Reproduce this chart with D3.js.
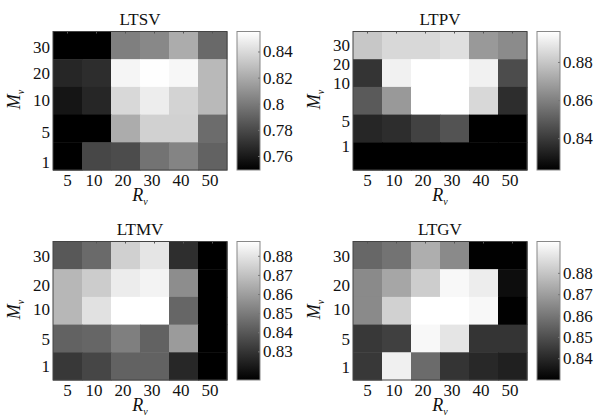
<!DOCTYPE html>
<html>
<head>
<meta charset="utf-8">
<script src="https://cdn.jsdelivr.net/npm/d3@7"></script>
<style>
  body { margin: 0; background: #fff; }
  svg, svg text { font-family: "Liberation Serif", "Times New Roman", serif; }
</style>
</head>
<body>
<div id="chart"></div>
<script>
// axis categories
const rLabels = ['5', '10', '20', '30', '40', '50']
const mLabels = ['30', '20', '10', '5', '1']

// cell values, rows top (M=30) to bottom (M=1), columns R=5..50
const ltsv = [
  [0.749, 0.749, 0.802, 0.806, 0.821, 0.793],
  [0.765, 0.768, 0.851, 0.855, 0.852, 0.826],
  [0.758, 0.765, 0.839, 0.848, 0.837, 0.826],
  [0.749, 0.749, 0.821, 0.836, 0.836, 0.794],
  [0.749, 0.779, 0.781, 0.797, 0.804, 0.790]
]
const ltpv = [
  [0.880, 0.885, 0.885, 0.887, 0.867, 0.863],
  [0.838, 0.892, 0.896, 0.896, 0.892, 0.845],
  [0.849, 0.867, 0.896, 0.896, 0.885, 0.836],
  [0.834, 0.836, 0.842, 0.847, 0.823, 0.823],
  [0.823, 0.823, 0.823, 0.823, 0.823, 0.823]
]
const ltmv = [
  [0.840, 0.845, 0.874, 0.880, 0.828, 0.815],
  [0.867, 0.873, 0.882, 0.884, 0.855, 0.815],
  [0.867, 0.879, 0.8875, 0.8875, 0.844, 0.815],
  [0.843, 0.844, 0.851, 0.843, 0.859, 0.815],
  [0.831, 0.835, 0.843, 0.843, 0.826, 0.815]
]
const ltgv = [
  [0.856, 0.859, 0.874, 0.865, 0.830, 0.830],
  [0.865, 0.872, 0.882, 0.893, 0.890, 0.833],
  [0.865, 0.883, 0.8947, 0.8947, 0.893, 0.830],
  [0.844, 0.846, 0.893, 0.888, 0.843, 0.843],
  [0.844, 0.891, 0.857, 0.843, 0.840, 0.838]
]

// colour bar ranges and ticks
const ltsvRange = [0.7493, 0.8553]
const ltpvRange = [0.8233, 0.896]
const ltmvRange = [0.815, 0.8875]
const ltgvRange = [0.8298, 0.8947]
const ltsvTicks = [0.76, 0.78, 0.80, 0.82, 0.84]
const ltpvTicks = [0.84, 0.86, 0.88]
const ltmvTicks = [0.83, 0.84, 0.85, 0.86, 0.87, 0.88]
const ltgvTicks = [0.84, 0.85, 0.86, 0.87, 0.88]

const titles = ['LTSV', 'LTPV', 'LTMV', 'LTGV']

const panels = [
  { title: titles[0], values: ltsv, range: ltsvRange, ticks: ltsvTicks, fmt: d3.format('.2~f'), ox: 0, oy: 0, yNudge: [2, 0, -0.5, 4.5, 6.5] },
  { title: titles[1], values: ltpv, range: ltpvRange, ticks: ltpvTicks, fmt: d3.format('.2f'), ox: 300, oy: 0, yNudge: [0, -8.5, -17, -6.5, -9.5] },
  { title: titles[2], values: ltmv, range: ltmvRange, ticks: ltmvTicks, fmt: d3.format('.2f'), ox: 0, oy: 210, yNudge: [1, 2, -1, 1.5, 0.5] },
  { title: titles[3], values: ltgv, range: ltgvRange, ticks: ltgvTicks, fmt: d3.format('.2f'), ox: 300, oy: 210, yNudge: [1, 2.5, -1, 1.5, 1] }
]

const width = 599
const height = 419
const plot = { left: 53, top: 31.5, width: 174, height: 138.5 }
const bar = { left: 237, width: 23 }
const serif = '"Liberation Serif", "Times New Roman", serif'
const fs = 17

const svg = d3.select('#chart')
  .append('svg')
    .attr('width', width)
    .attr('height', height)

const defs = svg.append('defs')
const grad = defs.append('linearGradient')
    .attr('id', 'grayGrad')
    .attr('x1', 0).attr('y1', 1)
    .attr('x2', 0).attr('y2', 0)
grad.append('stop').attr('offset', '0%').attr('stop-color', '#000')
grad.append('stop').attr('offset', '100%').attr('stop-color', '#fff')

const xScale = d3.scaleBand()
  .domain(rLabels)
  .range([plot.left, plot.left + plot.width])

const yScale = d3.scaleBand()
  .domain(mLabels)
  .range([plot.top, plot.top + plot.height])

function styleAxis(a) {
  a.attr('font-family', null).attr('font-size', null)
  a.select('.domain').remove()
  a.selectAll('text')
    .style('font-family', serif)
    .style('font-size', fs + 'px')
    .attr('fill', '#111')
}

panels.forEach(p => {
  const g = svg.append('g')
    .attr('transform', `translate(${p.ox}, ${p.oy})`)

  const color = d3.scaleLinear()
    .domain(p.range)
    .range(['#000', '#fff'])
    .clamp(true)

  // cells
  const cells = []
  p.values.forEach((row, i) => row.forEach((v, j) => cells.push({ m: mLabels[i], r: rLabels[j], v: v })))

  g.append('g').selectAll('rect')
    .data(cells).enter()
    .append('rect')
      .attr('x', d => xScale(d.r))
      .attr('y', d => yScale(d.m))
      .attr('width', xScale.bandwidth() + 0.5)
      .attr('height', yScale.bandwidth() + 0.5)
      .attr('fill', d => color(d.v))

  // inner tick marks at top, like matlab
  g.append('g')
    .attr('transform', `translate(0, ${plot.top})`)
    .call(d3.axisTop(xScale).tickSize(-2).tickFormat(''))
    .call(a => a.select('.domain').remove())
    .selectAll('line').attr('stroke', '#555')

  g.append('rect')
    .attr('x', plot.left)
    .attr('y', plot.top)
    .attr('width', plot.width)
    .attr('height', plot.height)
    .attr('fill', 'none')
    .attr('stroke', '#444')
    .attr('stroke-width', 1)

  // x axis
  g.append('g')
    .attr('transform', `translate(0, ${plot.top + plot.height})`)
    .call(d3.axisBottom(xScale).tickSize(0).tickPadding(4))
    .call(styleAxis)
    .selectAll('text')
      .attr('dx', (d, i) => i === 0 ? 0 : -2.5)

  // y axis
  g.append('g')
    .attr('transform', `translate(${plot.left}, 0)`)
    .call(d3.axisLeft(yScale).tickSize(0).tickPadding(3))
    .call(styleAxis)
    .selectAll('text')
      .attr('dy', (d, i) => (p.yNudge[i] + 5.5) + 'px')

  // title
  g.append('text')
    .text(p.title)
    .attr('x', plot.left + plot.width / 2)
    .attr('y', 25)
    .attr('text-anchor', 'middle')
    .style('font-size', fs + 'px')
    .attr('fill', '#111')

  // axis labels
  const rl = g.append('text')
    .attr('x', plot.left + plot.width / 2)
    .attr('y', 201)
    .attr('text-anchor', 'middle')
    .style('font-size', '18px')
    .attr('font-style', 'italic')
    .attr('fill', '#111')
  rl.append('tspan').text('R')
  rl.append('tspan').text('v').style('font-size', '10px').attr('dy', 4)

  const ml = g.append('text')
    .attr('transform', `translate(20, ${plot.top + 68}) rotate(-90)`)
    .attr('text-anchor', 'middle')
    .style('font-size', '18px')
    .attr('font-style', 'italic')
    .attr('fill', '#111')
  ml.append('tspan').text('M')
  ml.append('tspan').text('v').style('font-size', '10px').attr('dy', 4)

  // colour bar
  const cScale = d3.scaleLinear()
    .domain(p.range)
    .range([plot.top + plot.height, plot.top])

  g.append('rect')
    .attr('x', bar.left)
    .attr('y', plot.top)
    .attr('width', bar.width)
    .attr('height', plot.height)
    .attr('fill', 'url(#grayGrad)')
    .attr('stroke', '#888')
    .attr('stroke-width', 1)

  const cAxis = g.append('g')
    .attr('transform', `translate(${bar.left + bar.width}, 0)`)
    .call(d3.axisRight(cScale).tickValues(p.ticks).tickFormat(p.fmt).tickSize(-2).tickPadding(3))
    .call(styleAxis)
  cAxis.selectAll('line').attr('stroke', '#777')
})
</script>
</body>
</html>
